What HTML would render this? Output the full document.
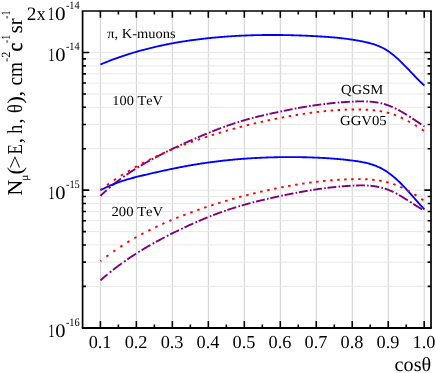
<!DOCTYPE html>
<html><head><meta charset="utf-8"><title>chart</title>
<style>
html,body{margin:0;padding:0;background:#fff;}
body{width:436px;height:373px;overflow:hidden;position:relative;font-family:"Liberation Serif",serif;}
</style></head><body>
<svg width="436" height="373" viewBox="0 0 436 373" style="position:absolute;left:0;top:0;will-change:transform"><rect x="0" y="0" width="436" height="373" fill="#fff"/><g shape-rendering="auto"><line x1="100.40" y1="11.11" x2="100.40" y2="327.80" stroke="#d0d0d0" stroke-width="1.0"/><line x1="136.38" y1="11.11" x2="136.38" y2="327.80" stroke="#d0d0d0" stroke-width="1.0"/><line x1="172.36" y1="11.11" x2="172.36" y2="327.80" stroke="#d0d0d0" stroke-width="1.0"/><line x1="208.34" y1="11.11" x2="208.34" y2="327.80" stroke="#d0d0d0" stroke-width="1.0"/><line x1="244.32" y1="11.11" x2="244.32" y2="327.80" stroke="#d0d0d0" stroke-width="1.0"/><line x1="280.30" y1="11.11" x2="280.30" y2="327.80" stroke="#d0d0d0" stroke-width="1.0"/><line x1="316.28" y1="11.11" x2="316.28" y2="327.80" stroke="#d0d0d0" stroke-width="1.0"/><line x1="352.26" y1="11.11" x2="352.26" y2="327.80" stroke="#d0d0d0" stroke-width="1.0"/><line x1="388.24" y1="11.11" x2="388.24" y2="327.80" stroke="#d0d0d0" stroke-width="1.0"/><line x1="424.22" y1="11.11" x2="424.22" y2="327.80" stroke="#d0d0d0" stroke-width="1.0"/><line x1="82.60" y1="286.37" x2="431.00" y2="286.37" stroke="#e8e8e8" stroke-width="1"/><line x1="82.60" y1="262.13" x2="431.00" y2="262.13" stroke="#e8e8e8" stroke-width="1"/><line x1="82.60" y1="244.94" x2="431.00" y2="244.94" stroke="#e8e8e8" stroke-width="1"/><line x1="82.60" y1="231.60" x2="431.00" y2="231.60" stroke="#e8e8e8" stroke-width="1"/><line x1="82.60" y1="220.70" x2="431.00" y2="220.70" stroke="#e8e8e8" stroke-width="1"/><line x1="82.60" y1="211.49" x2="431.00" y2="211.49" stroke="#e8e8e8" stroke-width="1"/><line x1="82.60" y1="203.51" x2="431.00" y2="203.51" stroke="#e8e8e8" stroke-width="1"/><line x1="82.60" y1="196.47" x2="431.00" y2="196.47" stroke="#e8e8e8" stroke-width="1"/><line x1="82.60" y1="190.17" x2="431.00" y2="190.17" stroke="#e8e8e8" stroke-width="1"/><line x1="82.60" y1="148.74" x2="431.00" y2="148.74" stroke="#e8e8e8" stroke-width="1"/><line x1="82.60" y1="124.50" x2="431.00" y2="124.50" stroke="#e8e8e8" stroke-width="1"/><line x1="82.60" y1="107.31" x2="431.00" y2="107.31" stroke="#e8e8e8" stroke-width="1"/><line x1="82.60" y1="93.97" x2="431.00" y2="93.97" stroke="#e8e8e8" stroke-width="1"/><line x1="82.60" y1="83.07" x2="431.00" y2="83.07" stroke="#e8e8e8" stroke-width="1"/><line x1="82.60" y1="73.86" x2="431.00" y2="73.86" stroke="#e8e8e8" stroke-width="1"/><line x1="82.60" y1="65.88" x2="431.00" y2="65.88" stroke="#e8e8e8" stroke-width="1"/><line x1="82.60" y1="58.84" x2="431.00" y2="58.84" stroke="#e8e8e8" stroke-width="1"/><line x1="82.60" y1="52.54" x2="431.00" y2="52.54" stroke="#e8e8e8" stroke-width="1"/></g><g fill="none" stroke-linejoin="round"><path d="M100.40,195.91 L100.88,195.45 L101.37,194.99 L101.85,194.53 L102.34,194.08 L102.82,193.63 L103.31,193.19 L103.79,192.74 L104.28,192.30 L104.76,191.86 L105.25,191.43 L105.73,190.99 L106.22,190.56 L106.70,190.14 M108.90,188.23 L109.30,187.89 L109.70,187.55 L110.10,187.22 L110.50,186.88 M112.20,185.47 L112.69,185.08 L113.18,184.68 L113.67,184.29 L114.16,183.89 L114.64,183.51 L115.13,183.12 L115.62,182.73 L116.11,182.35 L116.60,181.97 L117.09,181.60 L117.58,181.22 L118.07,180.85 L118.56,180.48 L119.04,180.11 L119.53,179.74 L120.02,179.38 L120.51,179.02 L121.00,178.66 M123.20,177.07 L123.60,176.78 L124.00,176.50 L124.40,176.22 L124.80,175.94 M126.50,174.76 L126.99,174.42 L127.48,174.09 L127.97,173.76 L128.46,173.43 L128.94,173.10 L129.43,172.77 L129.92,172.45 L130.41,172.13 L130.90,171.80 L131.39,171.49 L131.88,171.17 L132.37,170.85 L132.86,170.54 L133.34,170.22 L133.83,169.91 L134.32,169.60 L134.81,169.30 L135.30,168.99 M137.50,167.63 L137.90,167.38 L138.30,167.14 L138.70,166.90 L139.10,166.66 M140.80,165.64 L141.29,165.35 L141.78,165.06 L142.27,164.77 L142.76,164.49 L143.24,164.20 L143.73,163.92 L144.22,163.63 L144.71,163.35 L145.20,163.07 L145.69,162.79 L146.18,162.51 L146.67,162.24 L147.16,161.96 L147.64,161.68 L148.13,161.41 L148.62,161.13 L149.11,160.86 L149.60,160.59 M151.80,159.38 L152.20,159.16 L152.60,158.94 L153.00,158.73 L153.40,158.51 M155.10,157.60 L155.59,157.34 L156.08,157.08 L156.57,156.82 L157.06,156.56 L157.54,156.30 L158.03,156.05 L158.52,155.79 L159.01,155.54 L159.50,155.28 L159.99,155.03 L160.48,154.78 L160.97,154.53 L161.46,154.28 L161.94,154.03 L162.43,153.78 L162.92,153.53 L163.41,153.28 L163.90,153.04 M166.10,151.93 L166.50,151.74 L166.90,151.54 L167.30,151.34 L167.70,151.14 M169.40,150.31 L169.89,150.07 L170.38,149.84 L170.87,149.60 L171.36,149.36 L171.84,149.13 L172.33,148.89 L172.82,148.66 L173.31,148.42 L173.80,148.19 L174.29,147.96 L174.78,147.73 L175.27,147.50 L175.76,147.27 L176.24,147.04 L176.73,146.81 L177.22,146.58 L177.71,146.35 L178.20,146.12 M180.40,145.10 L180.80,144.92 L181.20,144.74 L181.60,144.55 L182.00,144.37 M183.70,143.60 L184.19,143.38 L184.68,143.15 L185.17,142.93 L185.66,142.71 L186.14,142.49 L186.63,142.27 L187.12,142.06 L187.61,141.84 L188.10,141.62 L188.59,141.40 L189.08,141.18 L189.57,140.97 L190.06,140.75 L190.54,140.54 L191.03,140.32 L191.52,140.10 L192.01,139.89 L192.50,139.67 M194.70,138.71 L195.10,138.54 L195.50,138.37 L195.90,138.19 L196.30,138.02 M198.00,137.29 L198.49,137.08 L198.98,136.87 L199.47,136.66 L199.96,136.46 L200.44,136.25 L200.93,136.04 L201.42,135.83 L201.91,135.63 L202.40,135.42 L202.89,135.22 L203.38,135.01 L203.87,134.81 L204.36,134.61 L204.84,134.40 L205.33,134.20 L205.82,134.00 L206.31,133.80 L206.80,133.60 M209.00,132.70 L209.40,132.54 L209.80,132.38 L210.20,132.22 L210.60,132.06 M212.30,131.38 L212.79,131.18 L213.28,130.99 L213.77,130.80 L214.26,130.61 L214.74,130.42 L215.23,130.23 L215.72,130.04 L216.21,129.85 L216.70,129.66 L217.19,129.47 L217.68,129.28 L218.17,129.10 L218.66,128.91 L219.14,128.73 L219.63,128.54 L220.12,128.36 L220.61,128.17 L221.10,127.99 M223.30,127.18 L223.70,127.03 L224.10,126.89 L224.50,126.74 L224.90,126.60 M226.60,125.99 L227.09,125.82 L227.58,125.64 L228.07,125.47 L228.56,125.30 L229.04,125.13 L229.53,124.96 L230.02,124.79 L230.51,124.62 L231.00,124.46 L231.49,124.29 L231.98,124.12 L232.47,123.96 L232.96,123.80 L233.44,123.63 L233.93,123.47 L234.42,123.31 L234.91,123.15 L235.40,122.99 M237.60,122.28 L238.00,122.15 L238.40,122.03 L238.80,121.90 L239.20,121.78 M240.90,121.25 L241.39,121.10 L241.88,120.96 L242.37,120.81 L242.86,120.66 L243.34,120.52 L243.83,120.37 L244.32,120.23 L244.81,120.09 L245.30,119.95 L245.79,119.81 L246.28,119.67 L246.77,119.53 L247.26,119.39 L247.74,119.25 L248.23,119.12 L248.72,118.98 L249.21,118.85 L249.70,118.71 M251.90,118.12 L252.30,118.02 L252.70,117.91 L253.10,117.81 L253.50,117.70 M255.20,117.27 L255.69,117.14 L256.18,117.02 L256.67,116.90 L257.16,116.78 L257.64,116.66 L258.13,116.53 L258.62,116.41 L259.11,116.30 L259.60,116.18 L260.09,116.06 L260.58,115.94 L261.07,115.82 L261.56,115.71 L262.04,115.59 L262.53,115.48 L263.02,115.36 L263.51,115.25 L264.00,115.14 M266.20,114.63 L266.60,114.54 L267.00,114.45 L267.40,114.36 L267.80,114.27 M269.50,113.89 L269.99,113.78 L270.48,113.68 L270.97,113.57 L271.46,113.46 L271.94,113.36 L272.43,113.25 L272.92,113.14 L273.41,113.04 L273.90,112.93 L274.39,112.83 L274.88,112.73 L275.37,112.62 L275.86,112.52 L276.34,112.41 L276.83,112.31 L277.32,112.21 L277.81,112.10 L278.30,112.00 M280.50,111.54 L280.90,111.46 L281.30,111.37 L281.70,111.29 L282.10,111.21 M283.80,110.86 L284.29,110.76 L284.78,110.66 L285.27,110.56 L285.76,110.46 L286.24,110.36 L286.73,110.26 L287.22,110.16 L287.71,110.06 L288.20,109.96 L288.69,109.86 L289.18,109.77 L289.67,109.67 L290.16,109.57 L290.64,109.48 L291.13,109.38 L291.62,109.28 L292.11,109.19 L292.60,109.09 M294.80,108.67 L295.20,108.60 L295.60,108.52 L296.00,108.44 L296.40,108.37 M298.10,108.06 L298.59,107.97 L299.08,107.88 L299.57,107.79 L300.06,107.70 L300.54,107.61 L301.03,107.53 L301.52,107.44 L302.01,107.36 L302.50,107.27 L302.99,107.19 L303.48,107.10 L303.97,107.02 L304.46,106.94 L304.94,106.85 L305.43,106.77 L305.92,106.69 L306.41,106.61 L306.90,106.53 M309.10,106.18 L309.50,106.11 L309.90,106.05 L310.30,105.99 L310.70,105.93 M312.40,105.67 L312.89,105.59 L313.38,105.52 L313.87,105.45 L314.36,105.38 L314.84,105.31 L315.33,105.23 L315.82,105.16 L316.31,105.10 L316.80,105.03 L317.29,104.96 L317.78,104.89 L318.27,104.82 L318.76,104.76 L319.24,104.69 L319.73,104.63 L320.22,104.56 L320.71,104.50 L321.20,104.43 M323.40,104.15 L323.80,104.10 L324.20,104.05 L324.60,104.01 L325.00,103.96 M326.70,103.76 L327.19,103.70 L327.68,103.64 L328.17,103.59 L328.66,103.53 L329.14,103.48 L329.63,103.43 L330.12,103.37 L330.61,103.32 L331.10,103.27 L331.59,103.22 L332.08,103.17 L332.57,103.12 L333.06,103.07 L333.54,103.02 L334.03,102.97 L334.52,102.92 L335.01,102.88 L335.50,102.83 M337.70,102.63 L338.10,102.60 L338.50,102.56 L338.90,102.53 L339.30,102.49 M341.00,102.35 L341.49,102.31 L341.98,102.28 L342.47,102.24 L342.96,102.20 L343.44,102.17 L343.93,102.13 L344.42,102.10 L344.91,102.06 L345.40,102.03 L345.89,102.00 L346.38,101.96 L346.87,101.93 L347.36,101.90 L347.84,101.87 L348.33,101.84 L348.82,101.81 L349.31,101.78 L349.80,101.75 M352.00,101.64 L352.40,101.62 L352.80,101.60 L353.20,101.58 L353.60,101.56 M355.30,101.49 L355.79,101.47 L356.28,101.45 L356.77,101.44 L357.26,101.42 L357.74,101.41 L358.23,101.39 L358.72,101.38 L359.21,101.37 L359.70,101.36 L360.19,101.36 L360.68,101.35 L361.17,101.35 L361.66,101.34 L362.14,101.34 L362.63,101.34 L363.12,101.35 L363.61,101.35 L364.10,101.36 M366.30,101.42 L366.70,101.43 L367.10,101.45 L367.50,101.47 L367.90,101.49 M369.60,101.59 L370.09,101.63 L370.58,101.67 L371.07,101.71 L371.56,101.75 L372.04,101.80 L372.53,101.85 L373.02,101.90 L373.51,101.96 L374.00,102.02 L374.49,102.08 L374.98,102.14 L375.47,102.21 L375.96,102.29 L376.44,102.36 L376.93,102.44 L377.42,102.52 L377.91,102.61 L378.40,102.70 M380.60,103.15 L381.00,103.24 L381.40,103.34 L381.80,103.43 L382.20,103.53 M383.90,103.98 L384.39,104.12 L384.88,104.26 L385.37,104.41 L385.86,104.57 L386.34,104.72 L386.83,104.89 L387.32,105.05 L387.81,105.22 L388.30,105.40 L388.79,105.58 L389.28,105.77 L389.77,105.96 L390.26,106.15 L390.74,106.35 L391.23,106.55 L391.72,106.76 L392.21,106.98 L392.70,107.19 M394.90,108.22 L395.30,108.41 L395.70,108.61 L396.10,108.81 L396.50,109.01 M398.20,109.89 L398.69,110.15 L399.18,110.42 L399.67,110.68 L400.16,110.95 L400.64,111.23 L401.13,111.50 L401.62,111.78 L402.11,112.06 L402.60,112.35 L403.09,112.63 L403.58,112.92 L404.07,113.21 L404.56,113.51 L405.04,113.80 L405.53,114.10 L406.02,114.40 L406.51,114.70 L407.00,115.00 M409.20,116.39 L409.60,116.65 L410.00,116.90 L410.40,117.16 L410.80,117.42 M412.50,118.53 L412.99,118.85 L413.48,119.17 L413.97,119.50 L414.46,119.82 L414.94,120.15 L415.43,120.48 L415.92,120.80 L416.41,121.13 L416.90,121.46 L417.39,121.79 L417.88,122.12 L418.37,122.46 L418.86,122.79 L419.34,123.12 L419.83,123.46 L420.32,123.79 L420.81,124.12 L421.30,124.46 M423.50,125.97 L423.95,126.28 L424.40,126.59" stroke="#800080" stroke-width="1.9"/><path d="M100.40,280.40 L100.87,279.99 L101.35,279.57 L101.82,279.16 L102.29,278.75 L102.77,278.34 L103.24,277.94 L103.71,277.53 L104.19,277.13 L104.66,276.73 L105.13,276.33 L105.61,275.93 L106.08,275.54 L106.55,275.14 L107.03,274.75 L107.50,274.36 M109.70,272.57 L110.10,272.25 L110.50,271.93 L110.90,271.61 L111.30,271.29 M113.00,269.95 L113.49,269.57 L113.98,269.19 L114.47,268.81 L114.96,268.43 L115.44,268.06 L115.93,267.68 L116.42,267.31 L116.91,266.94 L117.40,266.57 L117.89,266.21 L118.38,265.84 L118.87,265.48 L119.36,265.12 L119.84,264.76 L120.33,264.40 L120.82,264.04 L121.31,263.69 L121.80,263.33 M124.00,261.76 L124.40,261.48 L124.80,261.20 L125.20,260.91 L125.60,260.63 M127.30,259.46 L127.79,259.12 L128.28,258.79 L128.77,258.45 L129.26,258.12 L129.74,257.79 L130.23,257.47 L130.72,257.14 L131.21,256.81 L131.70,256.49 L132.19,256.16 L132.68,255.84 L133.17,255.52 L133.66,255.20 L134.14,254.89 L134.63,254.57 L135.12,254.25 L135.61,253.94 L136.10,253.63 M138.30,252.24 L138.70,251.99 L139.10,251.74 L139.50,251.49 L139.90,251.24 M141.60,250.20 L142.09,249.90 L142.58,249.60 L143.07,249.31 L143.56,249.01 L144.04,248.72 L144.53,248.43 L145.02,248.14 L145.51,247.85 L146.00,247.56 L146.49,247.27 L146.98,246.99 L147.47,246.70 L147.96,246.42 L148.44,246.13 L148.93,245.85 L149.42,245.57 L149.91,245.29 L150.40,245.01 M152.60,243.76 L153.00,243.54 L153.40,243.31 L153.80,243.09 L154.20,242.87 M155.90,241.93 L156.39,241.66 L156.88,241.40 L157.37,241.13 L157.86,240.86 L158.34,240.60 L158.83,240.34 L159.32,240.07 L159.81,239.81 L160.30,239.55 L160.79,239.29 L161.28,239.03 L161.77,238.77 L162.26,238.51 L162.74,238.25 L163.23,238.00 L163.72,237.74 L164.21,237.49 L164.70,237.23 M166.90,236.09 L167.30,235.89 L167.70,235.68 L168.10,235.48 L168.50,235.28 M170.20,234.41 L170.69,234.17 L171.18,233.92 L171.67,233.68 L172.16,233.43 L172.64,233.19 L173.13,232.94 L173.62,232.70 L174.11,232.46 L174.60,232.22 L175.09,231.98 L175.58,231.73 L176.07,231.49 L176.56,231.25 L177.04,231.02 L177.53,230.78 L178.02,230.54 L178.51,230.30 L179.00,230.06 M181.20,229.01 L181.60,228.82 L182.00,228.62 L182.40,228.43 L182.80,228.24 M184.50,227.44 L184.99,227.21 L185.48,226.98 L185.97,226.76 L186.46,226.53 L186.94,226.30 L187.43,226.08 L187.92,225.85 L188.41,225.63 L188.90,225.40 L189.39,225.18 L189.88,224.95 L190.37,224.73 L190.86,224.51 L191.34,224.29 L191.83,224.07 L192.32,223.85 L192.81,223.63 L193.30,223.41 M195.50,222.44 L195.90,222.26 L196.30,222.09 L196.70,221.91 L197.10,221.74 M198.80,221.00 L199.29,220.79 L199.78,220.58 L200.27,220.38 L200.76,220.17 L201.24,219.96 L201.73,219.75 L202.22,219.55 L202.71,219.34 L203.20,219.14 L203.69,218.94 L204.18,218.73 L204.67,218.53 L205.16,218.33 L205.64,218.13 L206.13,217.93 L206.62,217.73 L207.11,217.53 L207.60,217.33 M209.80,216.46 L210.20,216.30 L210.60,216.14 L211.00,215.98 L211.40,215.83 M213.10,215.16 L213.59,214.98 L214.08,214.79 L214.57,214.60 L215.06,214.42 L215.54,214.23 L216.03,214.05 L216.52,213.86 L217.01,213.68 L217.50,213.50 L217.99,213.32 L218.48,213.14 L218.97,212.96 L219.46,212.78 L219.94,212.60 L220.43,212.43 L220.92,212.25 L221.41,212.08 L221.90,211.90 M224.10,211.13 L224.50,210.99 L224.90,210.85 L225.30,210.71 L225.70,210.57 M227.40,210.00 L227.89,209.83 L228.38,209.67 L228.87,209.51 L229.36,209.34 L229.84,209.18 L230.33,209.02 L230.82,208.86 L231.31,208.71 L231.80,208.55 L232.29,208.39 L232.78,208.24 L233.27,208.08 L233.76,207.93 L234.24,207.77 L234.73,207.62 L235.22,207.47 L235.71,207.32 L236.20,207.17 M238.40,206.50 L238.80,206.38 L239.20,206.26 L239.60,206.14 L240.00,206.02 M241.70,205.52 L242.19,205.38 L242.68,205.24 L243.17,205.10 L243.66,204.96 L244.14,204.82 L244.63,204.68 L245.12,204.54 L245.61,204.41 L246.10,204.27 L246.59,204.13 L247.08,204.00 L247.57,203.86 L248.06,203.73 L248.54,203.60 L249.03,203.46 L249.52,203.33 L250.01,203.20 L250.50,203.07 M252.70,202.49 L253.10,202.38 L253.50,202.28 L253.90,202.18 L254.30,202.07 M256.00,201.64 L256.49,201.51 L256.98,201.39 L257.47,201.27 L257.96,201.14 L258.44,201.02 L258.93,200.90 L259.42,200.78 L259.91,200.66 L260.40,200.54 L260.89,200.42 L261.38,200.30 L261.87,200.18 L262.36,200.07 L262.84,199.95 L263.33,199.83 L263.82,199.72 L264.31,199.60 L264.80,199.48 M267.00,198.97 L267.40,198.88 L267.80,198.78 L268.20,198.69 L268.60,198.60 M270.30,198.21 L270.79,198.10 L271.28,197.99 L271.77,197.88 L272.26,197.78 L272.74,197.67 L273.23,197.56 L273.72,197.45 L274.21,197.34 L274.70,197.23 L275.19,197.13 L275.68,197.02 L276.17,196.91 L276.66,196.81 L277.14,196.70 L277.63,196.60 L278.12,196.49 L278.61,196.39 L279.10,196.28 M281.30,195.82 L281.70,195.73 L282.10,195.65 L282.50,195.56 L282.90,195.48 M284.60,195.13 L285.09,195.03 L285.58,194.92 L286.07,194.82 L286.56,194.72 L287.04,194.63 L287.53,194.53 L288.02,194.43 L288.51,194.33 L289.00,194.23 L289.49,194.13 L289.98,194.03 L290.47,193.94 L290.96,193.84 L291.44,193.74 L291.93,193.65 L292.42,193.55 L292.91,193.46 L293.40,193.36 M295.60,192.94 L296.00,192.86 L296.40,192.79 L296.80,192.71 L297.20,192.64 M298.90,192.32 L299.39,192.23 L299.88,192.14 L300.37,192.05 L300.86,191.96 L301.34,191.87 L301.83,191.78 L302.32,191.70 L302.81,191.61 L303.30,191.52 L303.79,191.44 L304.28,191.35 L304.77,191.27 L305.26,191.18 L305.74,191.10 L306.23,191.01 L306.72,190.93 L307.21,190.85 L307.70,190.76 M309.90,190.40 L310.30,190.33 L310.70,190.27 L311.10,190.20 L311.50,190.14 M313.20,189.87 L313.69,189.79 L314.18,189.71 L314.67,189.64 L315.16,189.56 L315.64,189.49 L316.13,189.42 L316.62,189.34 L317.11,189.27 L317.60,189.20 L318.09,189.12 L318.58,189.05 L319.07,188.98 L319.56,188.91 L320.04,188.84 L320.53,188.77 L321.02,188.71 L321.51,188.64 L322.00,188.57 M324.20,188.28 L324.60,188.22 L325.00,188.17 L325.40,188.12 L325.80,188.07 M327.50,187.85 L327.99,187.79 L328.48,187.73 L328.97,187.68 L329.46,187.62 L329.94,187.56 L330.43,187.50 L330.92,187.45 L331.41,187.39 L331.90,187.34 L332.39,187.28 L332.88,187.23 L333.37,187.18 L333.86,187.12 L334.34,187.07 L334.83,187.02 L335.32,186.97 L335.81,186.92 L336.30,186.87 M338.50,186.66 L338.90,186.62 L339.30,186.59 L339.70,186.55 L340.10,186.51 M341.80,186.37 L342.29,186.33 L342.78,186.29 L343.27,186.25 L343.76,186.21 L344.24,186.17 L344.73,186.13 L345.22,186.10 L345.71,186.06 L346.20,186.03 L346.69,185.99 L347.18,185.96 L347.67,185.93 L348.16,185.90 L348.64,185.87 L349.13,185.84 L349.62,185.81 L350.11,185.78 L350.60,185.75 M352.80,185.63 L353.20,185.61 L353.60,185.60 L354.00,185.58 L354.40,185.56 M356.10,185.49 L356.59,185.48 L357.08,185.46 L357.57,185.45 L358.06,185.44 L358.54,185.43 L359.03,185.42 L359.52,185.41 L360.01,185.40 L360.50,185.40 L360.99,185.40 L361.48,185.40 L361.97,185.40 L362.46,185.40 L362.94,185.40 L363.43,185.41 L363.92,185.42 L364.41,185.43 L364.90,185.45 M367.10,185.54 L367.50,185.56 L367.90,185.58 L368.30,185.61 L368.70,185.63 M370.40,185.77 L370.89,185.81 L371.38,185.86 L371.87,185.91 L372.36,185.97 L372.84,186.03 L373.33,186.09 L373.82,186.15 L374.31,186.22 L374.80,186.29 L375.29,186.37 L375.78,186.44 L376.27,186.53 L376.76,186.61 L377.24,186.70 L377.73,186.79 L378.22,186.89 L378.71,186.99 L379.20,187.09 M381.40,187.61 L381.80,187.72 L382.20,187.82 L382.60,187.93 L383.00,188.05 M384.70,188.56 L385.19,188.72 L385.68,188.88 L386.17,189.04 L386.66,189.22 L387.14,189.39 L387.63,189.57 L388.12,189.76 L388.61,189.95 L389.10,190.15 L389.59,190.35 L390.08,190.55 L390.57,190.77 L391.06,190.98 L391.54,191.20 L392.03,191.42 L392.52,191.65 L393.01,191.88 L393.50,192.12 M395.70,193.23 L396.10,193.44 L396.50,193.65 L396.90,193.87 L397.30,194.08 M399.00,195.03 L399.49,195.31 L399.98,195.59 L400.47,195.87 L400.96,196.15 L401.44,196.44 L401.93,196.73 L402.42,197.03 L402.91,197.32 L403.40,197.62 L403.89,197.92 L404.38,198.22 L404.87,198.52 L405.36,198.83 L405.84,199.13 L406.33,199.44 L406.82,199.75 L407.31,200.06 L407.80,200.37 M410.00,201.78 L410.40,202.04 L410.80,202.30 L411.20,202.56 L411.60,202.82 M413.30,203.92 L413.79,204.23 L414.28,204.55 L414.77,204.86 L415.26,205.17 L415.74,205.48 L416.23,205.79 L416.72,206.10 L417.21,206.41 L417.70,206.71 L418.19,207.01 L418.68,207.31 L419.17,207.61 L419.66,207.91 L420.14,208.20 L420.63,208.49 L421.12,208.78 L421.61,209.06 L422.10,209.35 M424.30,210.57 L424.40,210.62" stroke="#800080" stroke-width="1.9"/><path d="M100.40,64.49 L101.40,64.07 L102.40,63.65 L103.40,63.24 L104.40,62.84 L105.40,62.44 L106.40,62.04 L107.40,61.64 L108.40,61.25 L109.40,60.87 L110.40,60.48 L111.40,60.10 L112.40,59.73 L113.40,59.36 L114.40,58.99 L115.40,58.62 L116.40,58.26 L117.40,57.91 L118.40,57.55 L119.40,57.20 L120.40,56.86 L121.40,56.51 L122.40,56.18 L123.40,55.84 L124.40,55.51 L125.40,55.18 L126.40,54.85 L127.40,54.53 L128.40,54.21 L129.40,53.90 L130.40,53.59 L131.40,53.28 L132.40,52.98 L133.40,52.67 L134.40,52.38 L135.40,52.08 L136.40,51.79 L137.40,51.50 L138.40,51.22 L139.40,50.94 L140.40,50.66 L141.40,50.38 L142.40,50.11 L143.40,49.84 L144.40,49.58 L145.40,49.31 L146.40,49.05 L147.40,48.80 L148.40,48.54 L149.40,48.29 L150.40,48.05 L151.40,47.80 L152.40,47.56 L153.40,47.32 L154.40,47.09 L155.40,46.85 L156.40,46.62 L157.40,46.40 L158.40,46.17 L159.40,45.95 L160.40,45.73 L161.40,45.52 L162.40,45.31 L163.40,45.10 L164.40,44.89 L165.40,44.68 L166.40,44.48 L167.40,44.28 L168.40,44.09 L169.40,43.89 L170.40,43.70 L171.40,43.51 L172.40,43.33 L173.40,43.14 L174.40,42.96 L175.40,42.78 L176.40,42.61 L177.40,42.43 L178.40,42.26 L179.40,42.09 L180.40,41.93 L181.40,41.76 L182.40,41.60 L183.40,41.44 L184.40,41.29 L185.40,41.13 L186.40,40.98 L187.40,40.83 L188.40,40.68 L189.40,40.54 L190.40,40.40 L191.40,40.25 L192.40,40.12 L193.40,39.98 L194.40,39.85 L195.40,39.71 L196.40,39.58 L197.40,39.46 L198.40,39.33 L199.40,39.21 L200.40,39.08 L201.40,38.96 L202.40,38.85 L203.40,38.73 L204.40,38.62 L205.40,38.51 L206.40,38.40 L207.40,38.29 L208.40,38.18 L209.40,38.08 L210.40,37.98 L211.40,37.87 L212.40,37.78 L213.40,37.68 L214.40,37.58 L215.40,37.49 L216.40,37.40 L217.40,37.31 L218.40,37.22 L219.40,37.14 L220.40,37.05 L221.40,36.97 L222.40,36.89 L223.40,36.81 L224.40,36.73 L225.40,36.66 L226.40,36.58 L227.40,36.51 L228.40,36.44 L229.40,36.37 L230.40,36.31 L231.40,36.24 L232.40,36.18 L233.40,36.12 L234.40,36.06 L235.40,36.00 L236.40,35.94 L237.40,35.89 L238.40,35.84 L239.40,35.78 L240.40,35.73 L241.40,35.69 L242.40,35.64 L243.40,35.59 L244.40,35.55 L245.40,35.51 L246.40,35.47 L247.40,35.43 L248.40,35.39 L249.40,35.36 L250.40,35.32 L251.40,35.29 L252.40,35.26 L253.40,35.23 L254.40,35.20 L255.40,35.18 L256.40,35.15 L257.40,35.13 L258.40,35.11 L259.40,35.09 L260.40,35.07 L261.40,35.05 L262.40,35.04 L263.40,35.03 L264.40,35.01 L265.40,35.00 L266.40,34.99 L267.40,34.98 L268.40,34.98 L269.40,34.97 L270.40,34.97 L271.40,34.97 L272.40,34.97 L273.40,34.97 L274.40,34.97 L275.40,34.97 L276.40,34.98 L277.40,34.98 L278.40,34.99 L279.40,35.00 L280.40,35.01 L281.40,35.02 L282.40,35.04 L283.40,35.05 L284.40,35.07 L285.40,35.08 L286.40,35.10 L287.40,35.12 L288.40,35.14 L289.40,35.16 L290.40,35.19 L291.40,35.21 L292.40,35.24 L293.40,35.27 L294.40,35.30 L295.40,35.33 L296.40,35.36 L297.40,35.39 L298.40,35.42 L299.40,35.46 L300.40,35.49 L301.40,35.53 L302.40,35.57 L303.40,35.61 L304.40,35.65 L305.40,35.69 L306.40,35.74 L307.40,35.78 L308.40,35.83 L309.40,35.87 L310.40,35.92 L311.40,35.97 L312.40,36.02 L313.40,36.07 L314.40,36.13 L315.40,36.18 L316.40,36.24 L317.40,36.29 L318.40,36.35 L319.40,36.41 L320.40,36.47 L321.40,36.53 L322.40,36.59 L323.40,36.66 L324.40,36.72 L325.40,36.79 L326.40,36.86 L327.40,36.94 L328.40,37.01 L329.40,37.09 L330.40,37.16 L331.40,37.25 L332.40,37.33 L333.40,37.42 L334.40,37.50 L335.40,37.60 L336.40,37.69 L337.40,37.79 L338.40,37.89 L339.40,37.99 L340.40,38.10 L341.40,38.21 L342.40,38.32 L343.40,38.44 L344.40,38.56 L345.40,38.68 L346.40,38.81 L347.40,38.94 L348.40,39.08 L349.40,39.22 L350.40,39.36 L351.40,39.51 L352.40,39.66 L353.40,39.82 L354.40,39.98 L355.40,40.14 L356.40,40.31 L357.40,40.49 L358.40,40.67 L359.40,40.85 L360.40,41.04 L361.40,41.24 L362.40,41.44 L363.40,41.64 L364.40,41.85 L365.40,42.07 L366.40,42.29 L367.40,42.52 L368.40,42.77 L369.40,43.02 L370.40,43.28 L371.40,43.55 L372.40,43.84 L373.40,44.15 L374.40,44.47 L375.40,44.80 L376.40,45.16 L377.40,45.53 L378.40,45.93 L379.40,46.35 L380.40,46.79 L381.40,47.25 L382.40,47.74 L383.40,48.25 L384.40,48.80 L385.40,49.37 L386.40,49.97 L387.40,50.60 L388.40,51.26 L389.40,51.95 L390.40,52.68 L391.40,53.43 L392.40,54.21 L393.40,55.02 L394.40,55.86 L395.40,56.71 L396.40,57.59 L397.40,58.50 L398.40,59.42 L399.40,60.36 L400.40,61.31 L401.40,62.29 L402.40,63.28 L403.40,64.28 L404.40,65.29 L405.40,66.31 L406.40,67.34 L407.40,68.39 L408.40,69.43 L409.40,70.48 L410.40,71.54 L411.40,72.60 L412.40,73.65 L413.40,74.70 L414.40,75.75 L415.40,76.79 L416.40,77.82 L417.40,78.84 L418.40,79.85 L419.40,80.84 L420.40,81.82 L421.40,82.77 L422.40,83.71 L423.40,84.62 L424.40,85.51" stroke="#0000ff" stroke-width="1.85"/><path d="M100.40,190.30 L101.40,189.76 L102.40,189.24 L103.40,188.72 L104.40,188.22 L105.40,187.73 L106.40,187.26 L107.40,186.79 L108.40,186.33 L109.40,185.89 L110.40,185.46 L111.40,185.03 L112.40,184.62 L113.40,184.21 L114.40,183.82 L115.40,183.43 L116.40,183.05 L117.40,182.69 L118.40,182.32 L119.40,181.97 L120.40,181.63 L121.40,181.29 L122.40,180.96 L123.40,180.64 L124.40,180.32 L125.40,180.01 L126.40,179.71 L127.40,179.41 L128.40,179.12 L129.40,178.84 L130.40,178.55 L131.40,178.28 L132.40,178.01 L133.40,177.74 L134.40,177.48 L135.40,177.22 L136.40,176.96 L137.40,176.71 L138.40,176.46 L139.40,176.22 L140.40,175.97 L141.40,175.73 L142.40,175.49 L143.40,175.26 L144.40,175.02 L145.40,174.79 L146.40,174.55 L147.40,174.32 L148.40,174.09 L149.40,173.85 L150.40,173.62 L151.40,173.39 L152.40,173.16 L153.40,172.94 L154.40,172.71 L155.40,172.48 L156.40,172.26 L157.40,172.03 L158.40,171.81 L159.40,171.58 L160.40,171.36 L161.40,171.14 L162.40,170.92 L163.40,170.70 L164.40,170.48 L165.40,170.27 L166.40,170.05 L167.40,169.84 L168.40,169.62 L169.40,169.41 L170.40,169.20 L171.40,168.99 L172.40,168.79 L173.40,168.58 L174.40,168.38 L175.40,168.17 L176.40,167.97 L177.40,167.77 L178.40,167.58 L179.40,167.38 L180.40,167.18 L181.40,166.99 L182.40,166.80 L183.40,166.61 L184.40,166.42 L185.40,166.24 L186.40,166.05 L187.40,165.87 L188.40,165.69 L189.40,165.51 L190.40,165.34 L191.40,165.16 L192.40,164.99 L193.40,164.82 L194.40,164.65 L195.40,164.49 L196.40,164.32 L197.40,164.16 L198.40,164.00 L199.40,163.84 L200.40,163.69 L201.40,163.53 L202.40,163.38 L203.40,163.23 L204.40,163.08 L205.40,162.94 L206.40,162.79 L207.40,162.65 L208.40,162.51 L209.40,162.37 L210.40,162.24 L211.40,162.10 L212.40,161.97 L213.40,161.84 L214.40,161.71 L215.40,161.58 L216.40,161.46 L217.40,161.34 L218.40,161.22 L219.40,161.10 L220.40,160.98 L221.40,160.86 L222.40,160.75 L223.40,160.64 L224.40,160.53 L225.40,160.42 L226.40,160.31 L227.40,160.21 L228.40,160.11 L229.40,160.01 L230.40,159.91 L231.40,159.81 L232.40,159.72 L233.40,159.62 L234.40,159.53 L235.40,159.44 L236.40,159.35 L237.40,159.27 L238.40,159.18 L239.40,159.10 L240.40,159.02 L241.40,158.94 L242.40,158.86 L243.40,158.79 L244.40,158.71 L245.40,158.64 L246.40,158.57 L247.40,158.50 L248.40,158.43 L249.40,158.37 L250.40,158.30 L251.40,158.24 L252.40,158.18 L253.40,158.12 L254.40,158.07 L255.40,158.01 L256.40,157.96 L257.40,157.91 L258.40,157.86 L259.40,157.81 L260.40,157.76 L261.40,157.71 L262.40,157.67 L263.40,157.63 L264.40,157.59 L265.40,157.55 L266.40,157.51 L267.40,157.48 L268.40,157.44 L269.40,157.41 L270.40,157.38 L271.40,157.35 L272.40,157.32 L273.40,157.30 L274.40,157.27 L275.40,157.25 L276.40,157.23 L277.40,157.21 L278.40,157.19 L279.40,157.17 L280.40,157.16 L281.40,157.15 L282.40,157.13 L283.40,157.12 L284.40,157.11 L285.40,157.11 L286.40,157.10 L287.40,157.10 L288.40,157.09 L289.40,157.09 L290.40,157.09 L291.40,157.09 L292.40,157.10 L293.40,157.10 L294.40,157.11 L295.40,157.11 L296.40,157.12 L297.40,157.13 L298.40,157.15 L299.40,157.16 L300.40,157.17 L301.40,157.19 L302.40,157.21 L303.40,157.23 L304.40,157.25 L305.40,157.27 L306.40,157.29 L307.40,157.32 L308.40,157.35 L309.40,157.37 L310.40,157.41 L311.40,157.44 L312.40,157.47 L313.40,157.51 L314.40,157.55 L315.40,157.59 L316.40,157.63 L317.40,157.67 L318.40,157.72 L319.40,157.76 L320.40,157.81 L321.40,157.86 L322.40,157.92 L323.40,157.97 L324.40,158.03 L325.40,158.09 L326.40,158.15 L327.40,158.21 L328.40,158.28 L329.40,158.35 L330.40,158.42 L331.40,158.49 L332.40,158.56 L333.40,158.64 L334.40,158.72 L335.40,158.80 L336.40,158.89 L337.40,158.97 L338.40,159.06 L339.40,159.15 L340.40,159.25 L341.40,159.34 L342.40,159.44 L343.40,159.54 L344.40,159.65 L345.40,159.76 L346.40,159.86 L347.40,159.98 L348.40,160.09 L349.40,160.21 L350.40,160.33 L351.40,160.45 L352.40,160.58 L353.40,160.70 L354.40,160.84 L355.40,160.97 L356.40,161.11 L357.40,161.26 L358.40,161.41 L359.40,161.57 L360.40,161.74 L361.40,161.92 L362.40,162.11 L363.40,162.30 L364.40,162.51 L365.40,162.73 L366.40,162.96 L367.40,163.21 L368.40,163.47 L369.40,163.74 L370.40,164.03 L371.40,164.34 L372.40,164.66 L373.40,165.00 L374.40,165.36 L375.40,165.73 L376.40,166.13 L377.40,166.55 L378.40,166.99 L379.40,167.45 L380.40,167.93 L381.40,168.44 L382.40,168.97 L383.40,169.53 L384.40,170.11 L385.40,170.72 L386.40,171.35 L387.40,172.02 L388.40,172.71 L389.40,173.43 L390.40,174.18 L391.40,174.96 L392.40,175.76 L393.40,176.59 L394.40,177.44 L395.40,178.31 L396.40,179.21 L397.40,180.13 L398.40,181.08 L399.40,182.04 L400.40,183.02 L401.40,184.02 L402.40,185.04 L403.40,186.07 L404.40,187.12 L405.40,188.18 L406.40,189.26 L407.40,190.36 L408.40,191.46 L409.40,192.58 L410.40,193.70 L411.40,194.83 L412.40,195.97 L413.40,197.11 L414.40,198.26 L415.40,199.40 L416.40,200.54 L417.40,201.67 L418.40,202.80 L419.40,203.92 L420.40,205.03 L421.40,206.12 L422.40,207.21 L423.40,208.27 L424.40,209.32" stroke="#0000ff" stroke-width="1.85"/><path d="M100.40,189.77 L100.78,189.49 L101.15,189.21 L101.53,188.93 L101.90,188.65 M106.88,185.07 L107.29,184.78 L107.70,184.49 L108.10,184.20 L108.51,183.92 L108.92,183.63 M113.86,180.27 L114.27,180.00 L114.69,179.72 L115.11,179.44 L115.53,179.17 L115.94,178.89 M120.84,175.74 L121.26,175.48 L121.69,175.21 L122.11,174.95 L122.54,174.68 L122.96,174.42 M127.82,171.47 L128.25,171.21 L128.68,170.96 L129.12,170.70 L129.55,170.45 L129.98,170.20 M134.81,167.43 L135.24,167.19 L135.68,166.94 L136.12,166.70 L136.56,166.46 L136.99,166.22 M141.79,163.62 L142.24,163.39 L142.68,163.15 L143.12,162.92 L143.56,162.69 L144.01,162.46 M148.78,160.03 L149.23,159.80 L149.68,159.58 L150.12,159.36 L150.57,159.14 L151.02,158.92 M155.77,156.63 L156.22,156.42 L156.67,156.21 L157.13,156.00 L157.58,155.78 L158.03,155.57 M162.76,153.43 L163.21,153.22 L163.67,153.02 L164.13,152.82 L164.59,152.62 L165.04,152.42 M169.75,150.40 L170.21,150.20 L170.67,150.01 L171.13,149.82 L171.59,149.63 L172.05,149.44 M176.74,147.53 L177.20,147.35 L177.67,147.16 L178.13,146.98 L178.60,146.80 L179.06,146.61 M183.73,144.82 L184.20,144.64 L184.67,144.46 L185.13,144.29 L185.60,144.11 L186.07,143.94 M190.72,142.24 L191.19,142.07 L191.66,141.90 L192.14,141.73 L192.61,141.57 L193.08,141.40 M197.72,139.78 L198.19,139.62 L198.66,139.46 L199.14,139.30 L199.61,139.14 L200.08,138.98 M204.71,137.44 L205.19,137.29 L205.66,137.13 L206.14,136.98 L206.61,136.82 L207.09,136.67 M211.71,135.20 L212.18,135.05 L212.66,134.90 L213.14,134.75 L213.62,134.60 L214.09,134.46 M218.70,133.05 L219.18,132.91 L219.66,132.76 L220.14,132.62 L220.62,132.48 L221.10,132.34 M225.70,131.00 L226.18,130.86 L226.66,130.72 L227.14,130.58 L227.62,130.45 L228.10,130.31 M232.69,129.03 L233.18,128.90 L233.66,128.77 L234.14,128.64 L234.62,128.50 L235.11,128.37 M239.69,127.16 L240.17,127.03 L240.66,126.90 L241.14,126.78 L241.63,126.65 L242.11,126.53 M246.69,125.37 L247.17,125.25 L247.66,125.12 L248.14,125.00 L248.63,124.89 L249.11,124.77 M253.68,123.66 L254.17,123.55 L254.66,123.43 L255.14,123.32 L255.63,123.20 L256.12,123.09 M260.68,122.04 L261.17,121.93 L261.66,121.82 L262.14,121.71 L262.63,121.60 L263.12,121.49 M267.68,120.50 L268.17,120.39 L268.66,120.29 L269.14,120.19 L269.63,120.08 L270.12,119.98 M274.67,119.04 L275.16,118.94 L275.65,118.84 L276.15,118.74 L276.64,118.64 L277.13,118.54 M281.67,117.65 L282.16,117.56 L282.65,117.46 L283.15,117.37 L283.64,117.27 L284.13,117.18 M288.67,116.34 L289.16,116.25 L289.65,116.16 L290.15,116.07 L290.64,115.98 L291.13,115.90 M295.67,115.11 L296.16,115.03 L296.65,114.94 L297.15,114.86 L297.64,114.78 L298.13,114.70 M302.66,113.98 L303.16,113.90 L303.65,113.82 L304.15,113.75 L304.64,113.67 L305.14,113.60 M309.66,112.95 L310.16,112.88 L310.65,112.81 L311.15,112.74 L311.64,112.67 L312.14,112.61 M316.66,112.03 L317.16,111.97 L317.65,111.91 L318.15,111.85 L318.64,111.79 L319.14,111.73 M323.66,111.24 L324.15,111.18 L324.65,111.13 L325.15,111.08 L325.65,111.04 L326.14,110.99 M330.65,110.58 L331.15,110.54 L331.65,110.50 L332.15,110.46 L332.65,110.42 L333.15,110.38 M337.65,110.07 L338.15,110.04 L338.65,110.01 L339.15,109.98 L339.65,109.95 L340.15,109.92 M344.65,109.71 L345.15,109.69 L345.65,109.67 L346.15,109.66 L346.65,109.64 L347.15,109.63 M351.65,109.52 L352.15,109.52 L352.65,109.51 L353.15,109.51 L353.65,109.50 L354.15,109.50 M358.65,109.51 L359.15,109.52 L359.65,109.52 L360.15,109.53 L360.65,109.54 L361.15,109.55 M365.65,109.70 L366.15,109.72 L366.65,109.74 L367.15,109.77 L367.65,109.80 L368.15,109.83 M372.66,110.17 L373.15,110.22 L373.65,110.27 L374.15,110.32 L374.65,110.37 L375.14,110.43 M379.67,111.06 L380.16,111.14 L380.65,111.22 L381.15,111.31 L381.64,111.40 L382.13,111.49 M386.69,112.49 L387.17,112.61 L387.66,112.73 L388.14,112.86 L388.63,112.99 L389.11,113.13 M393.73,114.59 L394.20,114.76 L394.67,114.93 L395.13,115.10 L395.60,115.28 L396.07,115.46 M400.77,117.46 L401.22,117.67 L401.67,117.88 L402.13,118.10 L402.58,118.31 L403.03,118.53 M407.81,121.00 L408.24,121.24 L408.68,121.48 L409.12,121.72 L409.56,121.97 L409.99,122.21 M414.83,125.04 L415.26,125.30 L415.69,125.55 L416.11,125.81 L416.54,126.07 L416.97,126.34 M421.85,129.39 L422.27,129.66 L422.69,129.93 L423.11,130.19 L423.53,130.46 L423.95,130.73" stroke="#ff0000" stroke-width="1.9"/><path d="M100.40,261.22 L100.89,260.84 L101.38,260.45 M106.39,256.63 L106.80,256.33 L107.20,256.04 L107.60,255.74 L108.00,255.44 L108.41,255.15 M113.37,251.60 L113.78,251.31 L114.19,251.03 L114.61,250.74 L115.02,250.46 L115.43,250.18 M120.35,246.88 L120.77,246.60 L121.19,246.33 L121.61,246.06 L122.03,245.78 L122.45,245.51 M127.33,242.45 L127.76,242.18 L128.19,241.92 L128.61,241.66 L129.04,241.40 L129.47,241.15 M134.31,238.29 L134.75,238.04 L135.18,237.79 L135.62,237.55 L136.05,237.30 L136.49,237.05 M141.30,234.39 L141.74,234.16 L142.18,233.92 L142.62,233.68 L143.06,233.45 L143.50,233.21 M148.28,230.73 L148.73,230.51 L149.18,230.28 L149.62,230.06 L150.07,229.83 L150.52,229.61 M155.27,227.29 L155.72,227.08 L156.17,226.86 L156.63,226.65 L157.08,226.44 L157.53,226.22 M162.26,224.05 L162.72,223.85 L163.17,223.64 L163.63,223.44 L164.08,223.24 L164.54,223.03 M169.25,220.99 L169.71,220.80 L170.17,220.60 L170.63,220.41 L171.09,220.21 L171.55,220.02 M176.24,218.10 L176.70,217.91 L177.17,217.72 L177.63,217.54 L178.10,217.35 L178.56,217.17 M183.23,215.34 L183.70,215.17 L184.17,214.99 L184.63,214.81 L185.10,214.63 L185.57,214.45 M190.23,212.72 L190.70,212.55 L191.17,212.37 L191.63,212.20 L192.10,212.03 L192.57,211.86 M197.22,210.20 L197.69,210.03 L198.16,209.87 L198.64,209.70 L199.11,209.54 L199.58,209.37 M204.21,207.78 L204.69,207.62 L205.16,207.46 L205.64,207.31 L206.11,207.15 L206.59,206.99 M211.21,205.47 L211.69,205.32 L212.16,205.16 L212.64,205.01 L213.11,204.86 L213.59,204.70 M218.21,203.25 L218.68,203.10 L219.16,202.96 L219.64,202.81 L220.12,202.66 L220.59,202.52 M225.20,201.13 L225.68,200.99 L226.16,200.85 L226.64,200.71 L227.12,200.57 L227.60,200.43 M232.20,199.11 L232.68,198.97 L233.16,198.84 L233.64,198.70 L234.12,198.57 L234.60,198.43 M239.19,197.17 L239.68,197.04 L240.16,196.91 L240.64,196.79 L241.12,196.66 L241.61,196.53 M246.19,195.33 L246.67,195.21 L247.16,195.08 L247.64,194.96 L248.13,194.84 L248.61,194.71 M253.19,193.58 L253.67,193.46 L254.16,193.34 L254.64,193.22 L255.13,193.11 L255.61,192.99 M260.18,191.91 L260.67,191.80 L261.16,191.69 L261.64,191.57 L262.13,191.46 L262.62,191.35 M267.18,190.33 L267.67,190.22 L268.16,190.12 L268.64,190.01 L269.13,189.90 L269.62,189.80 M274.18,188.83 L274.67,188.73 L275.16,188.63 L275.64,188.53 L276.13,188.43 L276.62,188.33 M281.17,187.42 L281.66,187.33 L282.15,187.23 L282.65,187.14 L283.14,187.04 L283.63,186.95 M288.17,186.10 L288.66,186.01 L289.15,185.92 L289.65,185.84 L290.14,185.75 L290.63,185.66 M295.17,184.88 L295.66,184.80 L296.15,184.72 L296.65,184.63 L297.14,184.55 L297.63,184.47 M302.16,183.76 L302.66,183.68 L303.15,183.61 L303.65,183.54 L304.14,183.46 L304.64,183.39 M309.16,182.75 L309.66,182.68 L310.15,182.61 L310.65,182.55 L311.14,182.48 L311.64,182.41 M316.16,181.85 L316.66,181.79 L317.15,181.73 L317.65,181.67 L318.14,181.61 L318.64,181.56 M323.16,181.06 L323.65,181.01 L324.15,180.96 L324.65,180.91 L325.15,180.86 L325.64,180.82 M330.15,180.40 L330.65,180.36 L331.15,180.32 L331.65,180.28 L332.15,180.24 L332.65,180.20 M337.15,179.87 L337.65,179.84 L338.15,179.81 L338.65,179.78 L339.15,179.75 L339.65,179.72 M344.15,179.48 L344.65,179.45 L345.15,179.43 L345.65,179.41 L346.15,179.39 L346.65,179.37 M351.15,179.22 L351.65,179.20 L352.15,179.19 L352.65,179.18 L353.15,179.17 L353.65,179.16 M358.15,179.11 L358.65,179.11 L359.15,179.11 L359.65,179.11 L360.15,179.12 L360.65,179.12 M365.15,179.23 L365.65,179.25 L366.15,179.27 L366.65,179.30 L367.15,179.32 L367.65,179.35 M372.16,179.68 L372.65,179.73 L373.15,179.78 L373.65,179.83 L374.15,179.88 L374.64,179.94 M379.17,180.56 L379.66,180.64 L380.15,180.73 L380.65,180.81 L381.14,180.90 L381.63,180.99 M386.19,181.98 L386.67,182.10 L387.16,182.22 L387.64,182.35 L388.13,182.48 L388.61,182.61 M393.22,184.04 L393.69,184.21 L394.16,184.37 L394.64,184.54 L395.11,184.72 L395.58,184.89 M400.27,186.83 L400.72,187.04 L401.17,187.25 L401.63,187.46 L402.08,187.67 L402.53,187.88 M407.30,190.31 L407.74,190.54 L408.18,190.78 L408.62,191.02 L409.06,191.27 L409.50,191.51 M414.34,194.35 L414.76,194.61 L415.19,194.88 L415.61,195.14 L416.04,195.41 L416.46,195.67 M421.37,198.86 L421.78,199.14 L422.19,199.42 L422.61,199.70 L423.02,199.98 L423.43,200.27" stroke="#ff0000" stroke-width="1.9"/></g><path d="M100.40,11.11v6.7 M100.40,327.80v-6.7 M136.38,11.11v6.7 M136.38,327.80v-6.7 M172.36,11.11v6.7 M172.36,327.80v-6.7 M208.34,11.11v6.7 M208.34,327.80v-6.7 M244.32,11.11v6.7 M244.32,327.80v-6.7 M280.30,11.11v6.7 M280.30,327.80v-6.7 M316.28,11.11v6.7 M316.28,327.80v-6.7 M352.26,11.11v6.7 M352.26,327.80v-6.7 M388.24,11.11v6.7 M388.24,327.80v-6.7 M424.22,11.11v6.7 M424.22,327.80v-6.7 M118.39,11.11v3.4 M118.39,327.80v-3.4 M154.37,11.11v3.4 M154.37,327.80v-3.4 M190.35,11.11v3.4 M190.35,327.80v-3.4 M226.33,11.11v3.4 M226.33,327.80v-3.4 M262.31,11.11v3.4 M262.31,327.80v-3.4 M298.29,11.11v3.4 M298.29,327.80v-3.4 M334.27,11.11v3.4 M334.27,327.80v-3.4 M370.25,11.11v3.4 M370.25,327.80v-3.4 M406.23,11.11v3.4 M406.23,327.80v-3.4 M82.60,286.37h3.4 M431.00,286.37h-3.4 M82.60,262.13h3.4 M431.00,262.13h-3.4 M82.60,244.94h3.4 M431.00,244.94h-3.4 M82.60,231.60h3.4 M431.00,231.60h-3.4 M82.60,220.70h3.4 M431.00,220.70h-3.4 M82.60,211.49h3.4 M431.00,211.49h-3.4 M82.60,203.51h3.4 M431.00,203.51h-3.4 M82.60,196.47h3.4 M431.00,196.47h-3.4 M82.60,190.17h6.7 M431.00,190.17h-6.7 M82.60,148.74h3.4 M431.00,148.74h-3.4 M82.60,124.50h3.4 M431.00,124.50h-3.4 M82.60,107.31h3.4 M431.00,107.31h-3.4 M82.60,93.97h3.4 M431.00,93.97h-3.4 M82.60,83.07h3.4 M431.00,83.07h-3.4 M82.60,73.86h3.4 M431.00,73.86h-3.4 M82.60,65.88h3.4 M431.00,65.88h-3.4 M82.60,58.84h3.4 M431.00,58.84h-3.4 M82.60,52.54h6.7 M431.00,52.54h-6.7" stroke="#000" stroke-width="1.6" fill="none"/><path d="M81.75,10.95H431.85" stroke="#000" stroke-width="1.35" fill="none"/><path d="M81.75,328.00H431.85" stroke="#000" stroke-width="1.8" fill="none"/><path d="M82.60,10.95V328.00 M431.00,10.95V328.00" stroke="#000" stroke-width="1.7" fill="none"/><g font-family="Liberation Serif, serif" fill="#000" style="filter:grayscale(1);font-kerning:none;text-rendering:geometricPrecision"><text x="100.10" y="348.4" font-size="18.3" text-anchor="middle">0.1</text><text x="136.08" y="348.4" font-size="18.3" text-anchor="middle">0.2</text><text x="172.06" y="348.4" font-size="18.3" text-anchor="middle">0.3</text><text x="208.04" y="348.4" font-size="18.3" text-anchor="middle">0.4</text><text x="244.02" y="348.4" font-size="18.3" text-anchor="middle">0.5</text><text x="280.00" y="348.4" font-size="18.3" text-anchor="middle">0.6</text><text x="315.98" y="348.4" font-size="18.3" text-anchor="middle">0.7</text><text x="351.96" y="348.4" font-size="18.3" text-anchor="middle">0.8</text><text x="387.94" y="348.4" font-size="18.3" text-anchor="middle">0.9</text><text x="423.92" y="348.4" font-size="18.3" text-anchor="middle">1.0</text><text x="431.2" y="371.4" font-size="20.2" text-anchor="end">cosθ</text><text transform="translate(107.20,37.70) scale(1.049,1)" font-size="13.8">π, K-muons</text><text transform="translate(112.34,104.60) scale(1.038,1)" font-size="13.8">100 TeV</text><text transform="translate(111.56,216.10) scale(1.060,1)" font-size="13.8">200 TeV</text><text transform="translate(341.00,94.40) scale(1.062,1)" font-size="13.8">QGSM</text><text transform="translate(340.00,124.70) scale(1.068,1)" font-size="13.8">GGV05</text><text transform="translate(26.86,19.91) scale(1.011,1)" font-size="19.0">2</text><text transform="translate(36.79,19.91) scale(0.928,1)" font-size="19.0">x</text><text transform="translate(48.00,19.91) scale(0.658,1)" font-size="19.0">1</text><text transform="translate(55.09,19.91) scale(1.118,1)" font-size="19.0">0</text><text transform="translate(65.92,8.81) scale(0.890,1)" font-size="11.5">-14</text><text transform="translate(48.45,61.34) scale(0.628,1)" font-size="19.0">1</text><text transform="translate(55.32,61.34) scale(1.080,1)" font-size="19.0">0</text><text transform="translate(65.92,50.24) scale(0.890,1)" font-size="11.5">-14</text><text transform="translate(48.45,198.97) scale(0.628,1)" font-size="19.0">1</text><text transform="translate(55.32,198.97) scale(1.080,1)" font-size="19.0">0</text><text transform="translate(65.91,187.87) scale(0.906,1)" font-size="11.5">-15</text><text transform="translate(48.45,336.60) scale(0.628,1)" font-size="19.0">1</text><text transform="translate(55.32,336.60) scale(1.080,1)" font-size="19.0">0</text><text transform="translate(65.92,325.50) scale(0.900,1)" font-size="11.5">-16</text><text transform="translate(21.60,195.74) rotate(-90) scale(1.043,1)" font-size="21.3">N</text><text transform="translate(28.20,180.72) rotate(-90) scale(0.987,1)" font-size="11.5">μ</text><text transform="translate(21.60,174.48) rotate(-90) scale(1.042,1)" font-size="21.3">(</text><text transform="translate(21.60,168.71) rotate(-90) scale(1.120,1)" font-size="21.3">&gt;</text><text transform="translate(21.60,154.49) rotate(-90) scale(0.794,1)" font-size="21.3">E</text><text transform="translate(21.60,143.29) rotate(-90) scale(0.977,1)" font-size="21.3">,</text><text transform="translate(21.60,133.78) rotate(-90) scale(0.846,1)" font-size="21.3">h</text><text transform="translate(21.60,123.47) rotate(-90) scale(0.946,1)" font-size="21.3">,</text><text transform="translate(21.60,113.07) rotate(-90) scale(0.868,1)" font-size="21.3">θ</text><text transform="translate(21.60,103.74) rotate(-90) scale(1.078,1)" font-size="21.3">)</text><text transform="translate(21.60,96.57) rotate(-90) scale(1.072,1)" font-size="21.3">,</text><text transform="translate(21.60,85.43) rotate(-90) scale(0.900,1)" font-size="21.3">cm</text><text transform="translate(9.90,61.96) rotate(-90) scale(0.983,1)" font-size="12.5">-2</text><text transform="translate(21.60,51.53) rotate(-90) scale(0.901,1)" font-size="21.3" stroke="#000" stroke-width="0.45">c</text><text transform="translate(9.90,42.96) rotate(-90) scale(0.772,1)" font-size="12.5">-1</text><text transform="translate(21.60,33.35) rotate(-90) scale(0.971,1)" font-size="21.3">sr</text><text transform="translate(9.90,18.76) rotate(-90) scale(0.772,1)" font-size="12.5">-1</text></g></svg>
</body></html>
